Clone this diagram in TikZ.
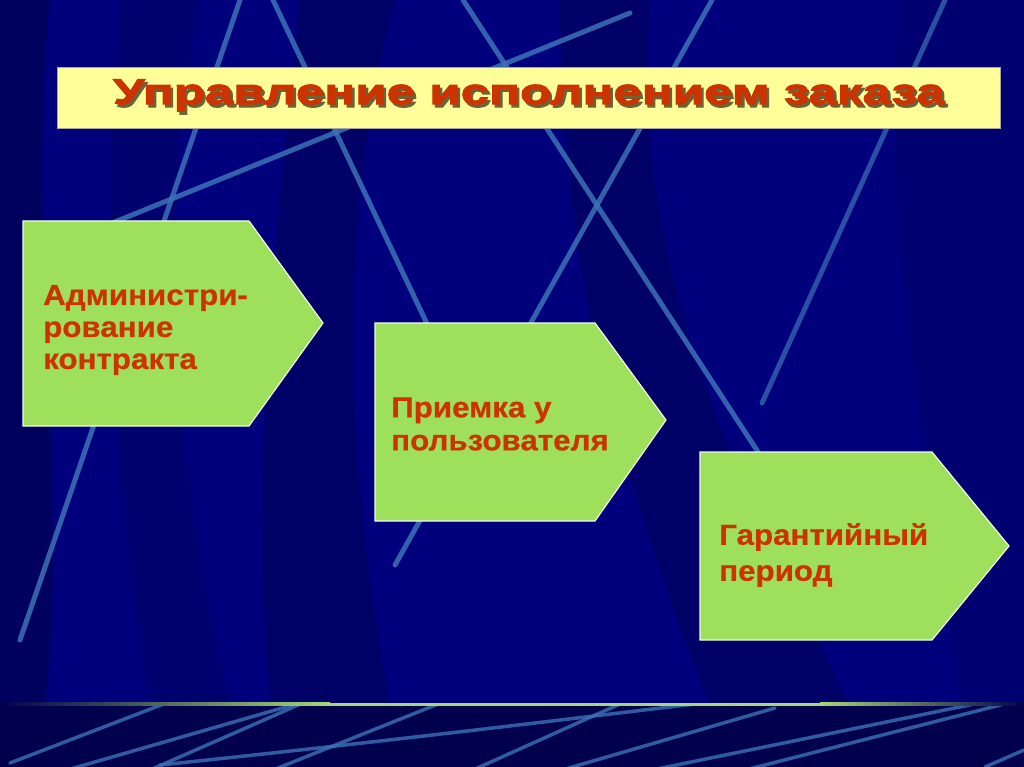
\documentclass[tikz,border=0pt]{standalone}
\usepackage{fontspec}
\setmainfont{Liberation Sans}
\newfontfamily\titlefont{Liberation Sans Bold}[FakeBold=2.6,FakeStretch=1.42]
\newfontfamily\boxfont{Liberation Sans Bold}[FakeBold=0.5,FakeStretch=1.08]
\usetikzlibrary{fadings}
\definecolor{bgnavy}{HTML}{00007C}
\definecolor{bgdark}{HTML}{000052}
\definecolor{bandnavy}{HTML}{00004C}
\definecolor{linecol}{HTML}{3B72B6}
\definecolor{titleyellow}{HTML}{FFFF99}
\definecolor{titleshadowcol}{HTML}{6A6436}
\definecolor{txtred}{HTML}{CC3300}
\definecolor{boxgreen}{HTML}{9EE05C}
\definecolor{strip}{HTML}{A6D873}
\newcommand{\shadowtext}[1]{\rlap{\kern2.5pt\raisebox{-3pt}{\textcolor{titleshadowcol}{#1}}}\textcolor{txtred}{#1}}
\tikzset{
  bgline/.style={draw=linecol, line width=5pt, opacity=0.85, line cap=round},
  thinline/.style={draw=linecol, line width=3.5pt, opacity=0.8, line cap=round},
  arrowbox/.style={fill=boxgreen, draw=white!85!boxgreen, line width=1.2pt},
  boxtext/.style={text=txtred, align=left, anchor=west, inner sep=0pt},
  titletext/.style={font=\titlefont\fontsize{36}{36}\selectfont, inner sep=0pt},
}
\begin{document}
\begin{tikzpicture}[x=1pt,y=-1pt]
\useasboundingbox (0,0) rectangle (1024,767);
% background
\fill[bgnavy] (0,0) rectangle (1024,767);
\fill[bgdark, opacity=0.7] (0,0) -- (50,0) .. controls (25,250) and (70,480) .. (45,705) -- (0,705) -- cycle;
\fill[bgdark, opacity=0.5] (300,0) -- (395,0) .. controls (330,250) and (350,480) .. (390,705) -- (270,705) .. controls (250,460) and (275,250) .. (300,0) -- cycle;
\fill[bgdark, opacity=0.5] (560,0) -- (650,0) .. controls (630,250) and (720,450) .. (850,705) -- (710,705) .. controls (610,450) and (560,250) .. (560,0) -- cycle;
\fill[bgdark, opacity=0.3] (120,0) -- (200,0) .. controls (150,250) and (180,480) .. (230,705) -- (150,705) .. controls (110,460) and (100,250) .. (120,0) -- cycle;
\fill[bgdark, opacity=0.25] (900,0) -- (1024,0) -- (1024,705) -- (960,705) .. controls (930,450) and (880,250) .. (900,0) -- cycle;
% background lines
\draw[bgline] (240,0) -- (20,640);
\draw[bgline] (273,0) -- (430,330);
\draw[bgline] (100,228) -- (630,13);
\draw[bgline] (463,0) -- (760,455);
\draw[bgline] (712,0) -- (395,565);
\draw[bgline, opacity=0.7] (945,0) -- (762,403);
% bottom band
\fill[bandnavy] (0,705) rectangle (1024,767);
\begin{scope}
\clip (0,706) rectangle (1024,767);
\draw[thinline] (10,763) -- (187,695);
\draw[thinline] (67,770) -- (310,700);
\draw[thinline] (150,770) -- (305,702);
\draw[thinline] (160,765) .. controls (400,740) and (600,715) .. (712,702);
\draw[thinline] (273,770) -- (443,702);
\draw[thinline] (473,770) -- (622,703);
\draw[thinline] (562,770) -- (775,708);
\draw[thinline] (652,770) -- (979,703);
\draw[thinline] (745,770) -- (1012,702);
\draw[thinline] (985,767) -- (1024,750);
\end{scope}
\shade[left color=bandnavy, right color=strip] (0,702.5) rectangle (330,705.5);
\fill[strip] (330,702.5) rectangle (820,705.5);
\shade[left color=strip, right color=bandnavy] (820,702.5) rectangle (1024,705.5);
% title
\node[draw=gray!70, line width=0.8pt, fill=titleyellow, minimum width=943pt, minimum height=61pt, inner sep=0pt, anchor=north west] (titlebox) at (57,67) {};
\node[titletext] (title) at ([yshift=1pt]titlebox.center) {\shadowtext{Управление исполнением заказа}};
% arrow boxes
\draw[arrowbox] (23,221) coordinate (a1) -- (249,221) -- (323,323) coordinate (a1tip) -- (249,426) -- (23,426) -- cycle;
\node[boxtext, font=\boxfont\fontsize{29}{32}\selectfont] (t1) at (43,330) {Администри-\\рование\\контракта};
\draw[arrowbox] (375,323) coordinate (a2) -- (595,323) -- (666,420) coordinate (a2tip) -- (595,521) -- (375,521) -- cycle;
\node[boxtext, font=\boxfont\fontsize{29}{33}\selectfont] (t2) at (391,424) {Приемка у\\пользователя};
\draw[arrowbox] (700,452) coordinate (a3) -- (932,452) -- (1009,546) coordinate (a3tip) -- (932,640) -- (700,640) -- cycle;
\node[boxtext, font=\boxfont\fontsize{29}{36}\selectfont] (t3) at (719,555) {Гарантийный\\период};
\end{tikzpicture}
\end{document}
